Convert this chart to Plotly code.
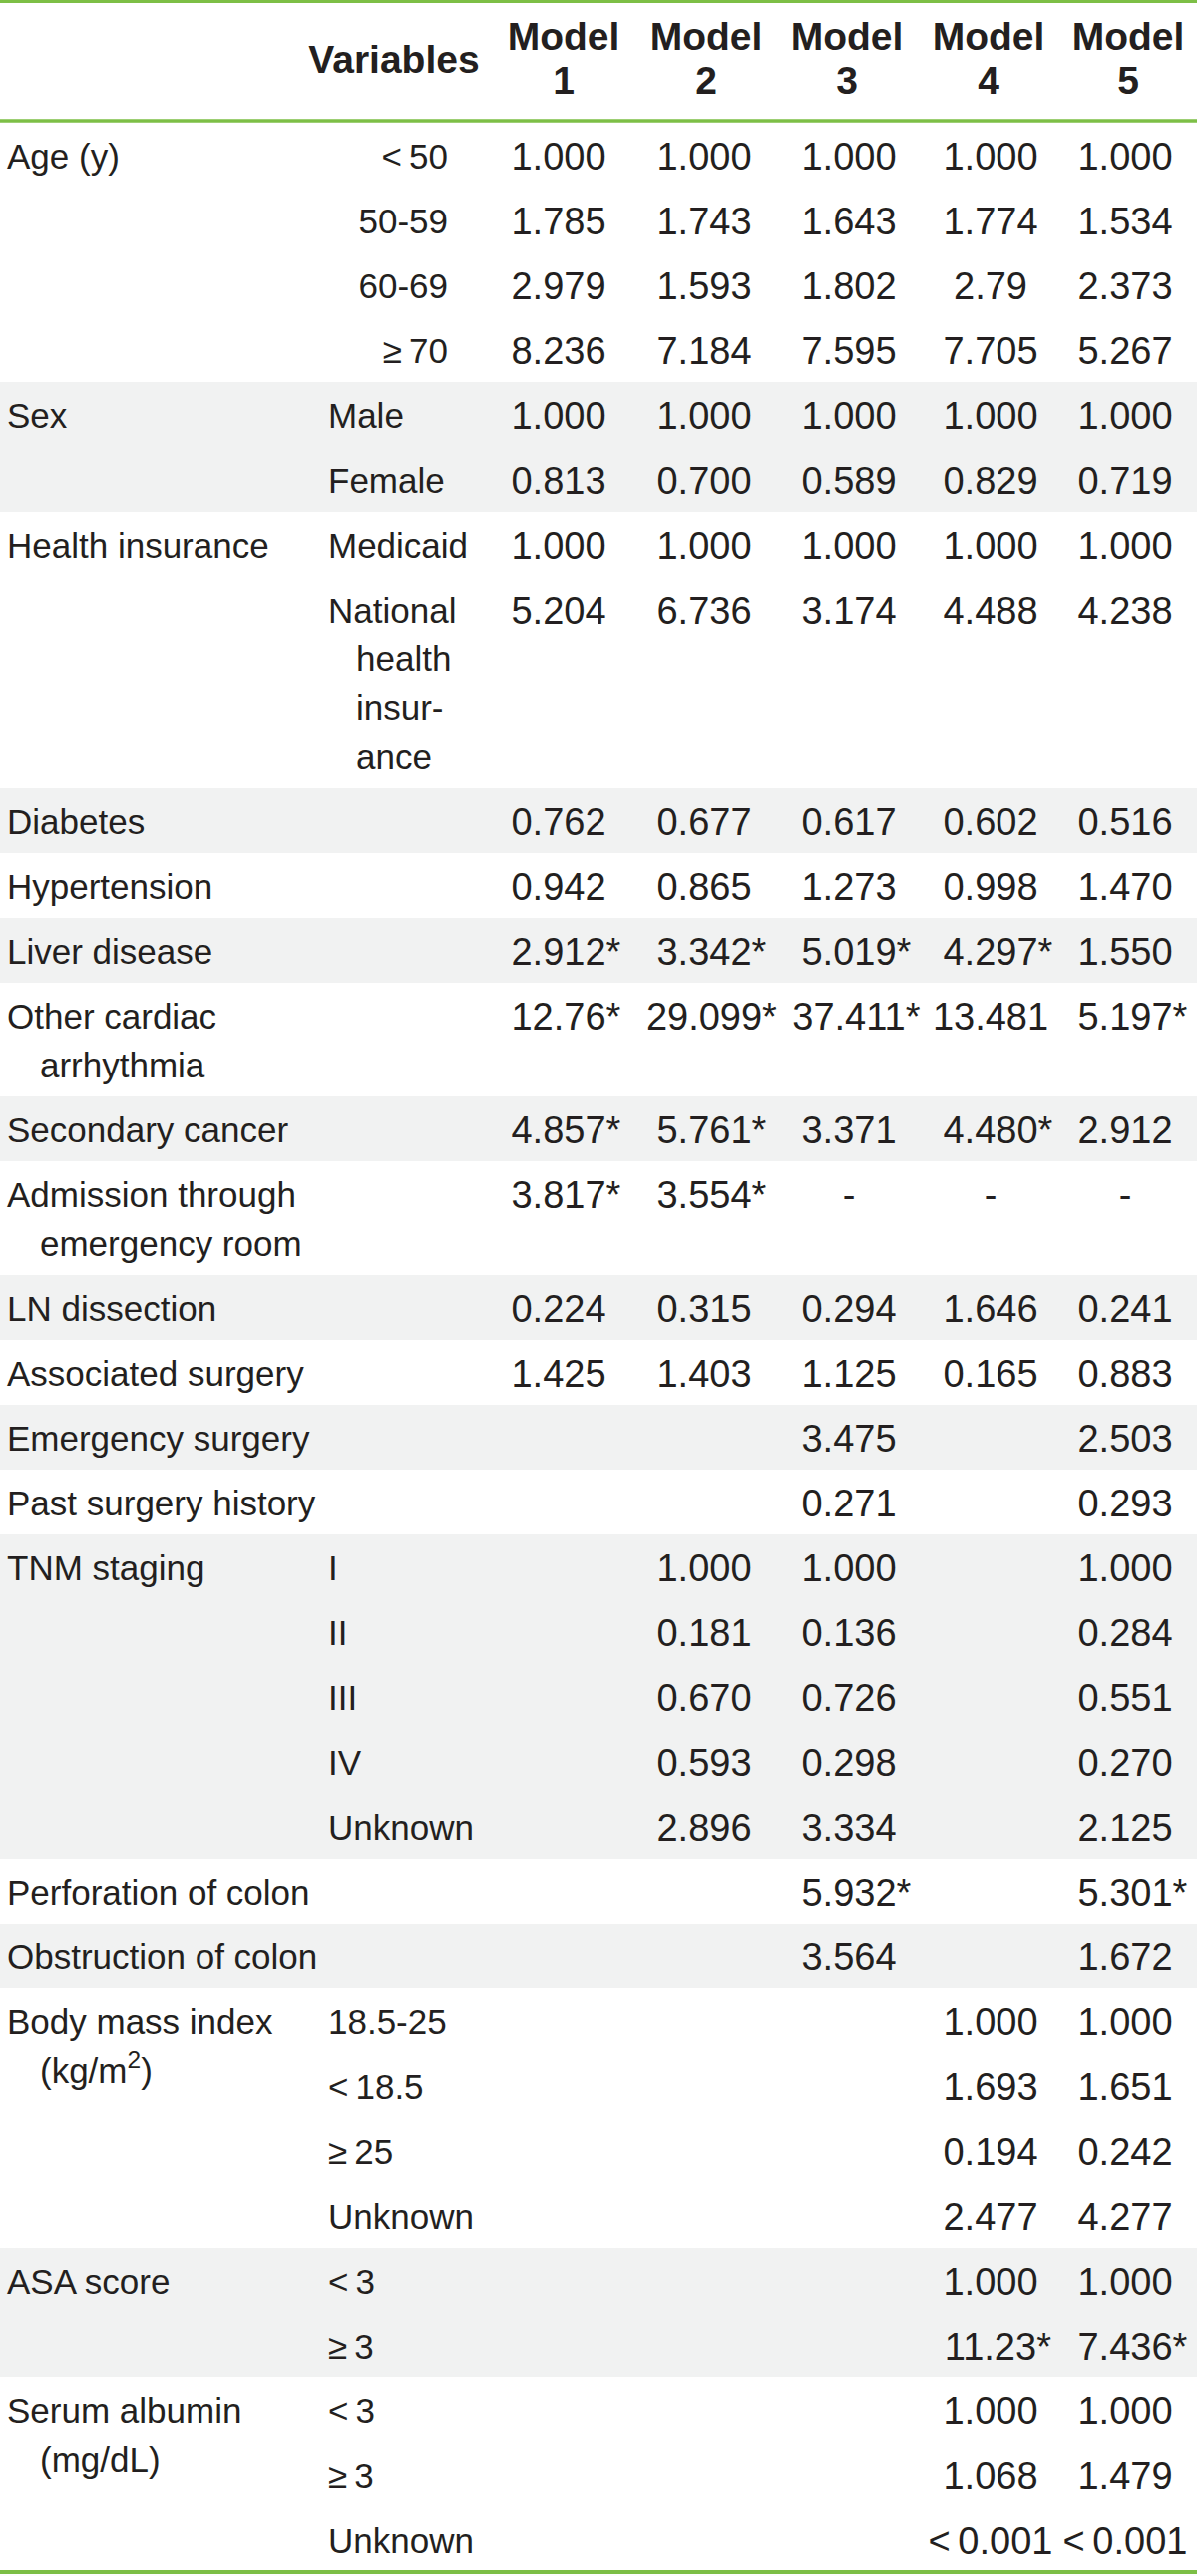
import plotly.graph_objects as go

# ---------------- data ----------------
headers = ["Variables", "Model<br>1", "Model<br>2", "Model<br>3", "Model<br>4", "Model<br>5"]

variables = [
    "Age (y)", "Sex", "Health insurance", "Diabetes", "Hypertension", "Liver disease",
    "Other cardiac<br>arrhythmia", "Secondary cancer", "Admission through<br>emergency room",
    "LN dissection", "Associated surgery", "Emergency surgery", "Past surgery history",
    "TNM staging", "Perforation of colon", "Obstruction of colon",
    "Body mass index<br>(kg/m<sup>2</sup>)", "ASA score", "Serum albumin<br>(mg/dL)",
]

levels = [
    ["<\u200950", "50-59", "60-69", "\u2265\u200970"],
    ["Male", "Female"],
    ["Medicaid", "National<br>health<br>insur-<br>ance"],
    [""], [""], [""], [""], [""], [""], [""], [""], [""], [""],
    ["I", "II", "III", "IV", "Unknown"],
    [""], [""],
    ["18.5-25", "<\u200918.5", "\u2265\u200925", "Unknown"],
    ["<\u20093", "\u2265\u20093"],
    ["<\u20093", "\u2265\u20093", "Unknown"],
]

model1 = ["1.000", "1.785", "2.979", "8.236", "1.000", "0.813", "1.000", "5.204",
          "0.762", "0.942", "2.912*", "12.76*", "4.857*", "3.817*", "0.224", "1.425",
          "", "", "", "", "", "", "", "", "", "", "", "", "", "", "", "", "", ""]
model2 = ["1.000", "1.743", "1.593", "7.184", "1.000", "0.700", "1.000", "6.736",
          "0.677", "0.865", "3.342*", "29.099*", "5.761*", "3.554*", "0.315", "1.403",
          "", "", "1.000", "0.181", "0.670", "0.593", "2.896", "", "", "", "", "", "", "", "", "", "", ""]
model3 = ["1.000", "1.643", "1.802", "7.595", "1.000", "0.589", "1.000", "3.174",
          "0.617", "1.273", "5.019*", "37.411*", "3.371", "-", "0.294", "1.125",
          "3.475", "0.271", "1.000", "0.136", "0.726", "0.298", "3.334", "5.932*", "3.564",
          "", "", "", "", "", "", "", "", ""]
model4 = ["1.000", "1.774", "2.79", "7.705", "1.000", "0.829", "1.000", "4.488",
          "0.602", "0.998", "4.297*", "13.481", "4.480*", "-", "1.646", "0.165",
          "", "", "", "", "", "", "", "", "",
          "1.000", "1.693", "0.194", "2.477", "1.000", "11.23*", "1.000", "1.068", "<\u20090.001"]
model5 = ["1.000", "1.534", "2.373", "5.267", "1.000", "0.719", "1.000", "4.238",
          "0.516", "1.470", "1.550", "5.197*", "2.912", "-", "0.241", "0.883",
          "2.503", "0.293", "1.000", "0.284", "0.551", "0.270", "2.125", "5.301*", "1.672",
          "1.000", "1.651", "0.242", "4.277", "1.000", "7.436*", "1.000", "1.479", "<\u20090.001"]
models = [model1, model2, model3, model4, model5]

# ---------------- layout constants ----------------
W, H = 1200, 2582
HEADER_BOTTOM = 123
ROW_H = 65
WRAP_H = 49
TEXT_DY = 37
FONT = "'Liberation Sans Narrow', 'Arial Narrow', 'Liberation Sans', Arial, sans-serif"
TXT = "#231f20"
GREEN = "#7dbf46"
BAND = "#f1f2f2"
LFS = 35   # label font size
VFS = 38   # value font size
HFS = 39   # header font size

VAR_X, VAR_INDENT = 7, 33
LEV_X, LEV_INDENT = 329, 28
AGE_RIGHT = 449
COL_X = [560, 706, 851, 993, 1128]
HEAD_X = [395, 565, 708, 849, 991, 1131]

# ---------------- compute rows ----------------
var_x, var_y, var_t = [], [], []
lev_lx, lev_ly, lev_lt = [], [], []
lev_rx, lev_ry, lev_rt = [], [], []
row_y = []
bands = []
y = HEADER_BOTTOM
for gi, (var, levs) in enumerate(zip(variables, levels)):
    top = y
    vlines = var.split("<br>")
    for k, ln in enumerate(vlines):
        var_x.append(VAR_X + (VAR_INDENT if k else 0))
        var_y.append(top + TEXT_DY + k * WRAP_H)
        var_t.append(ln)
    for lev in levs:
        llines = lev.split("<br>")
        row_y.append(y + TEXT_DY)
        for k, ln in enumerate(llines):
            if ln == "":
                continue
            if gi == 0:
                lev_rx.append(AGE_RIGHT)
                lev_ry.append(y + TEXT_DY + k * WRAP_H)
                lev_rt.append(ln)
            else:
                lev_lx.append(LEV_X + (LEV_INDENT if k else 0))
                lev_ly.append(y + TEXT_DY + k * WRAP_H)
                lev_lt.append(ln)
        y += ROW_H + (len(llines) - 1) * WRAP_H
    y = max(y, top + ROW_H + (len(vlines) - 1) * WRAP_H)
    bands.append((top, y, gi % 2 == 1))
TABLE_BOTTOM = y


def fmt(v):
    if v.endswith("*"):
        return "<span style='color:rgba(0,0,0,0)'>*</span>" + v
    return v


fig = go.Figure()

shapes = []
for top, bot, shaded in bands:
    if shaded:
        shapes.append(dict(type="rect", xref="x", yref="y", x0=0, x1=W, y0=top, y1=bot,
                           fillcolor=BAND, line=dict(width=0), layer="below"))
for yy, lw in [(1.5, 3), (HEADER_BOTTOM - 2, 3.5), (min(TABLE_BOTTOM, H - 2), 4)]:
    shapes.append(dict(type="line", xref="x", yref="y", x0=0, x1=W, y0=yy, y1=yy,
                       line=dict(color=GREEN, width=lw)))

lf = dict(family=FONT, size=LFS, color=TXT)
vf = dict(family=FONT, size=VFS, color=TXT)
fig.add_trace(go.Scatter(x=var_x, y=var_y, text=var_t, mode="text",
                         textposition="middle right", textfont=lf, hoverinfo="skip"))
fig.add_trace(go.Scatter(x=lev_lx, y=lev_ly, text=lev_lt, mode="text",
                         textposition="middle right", textfont=lf, hoverinfo="skip"))
fig.add_trace(go.Scatter(x=lev_rx, y=lev_ry, text=lev_rt, mode="text",
                         textposition="middle left", textfont=lf, hoverinfo="skip"))
for ci, vals in enumerate(models):
    xs, ys, ts = [], [], []
    for ri, v in enumerate(vals):
        if v:
            xs.append(COL_X[ci]); ys.append(row_y[ri]); ts.append(fmt(v))
    fig.add_trace(go.Scatter(x=xs, y=ys, text=ts, mode="text", textposition="middle center",
                             textfont=vf, hoverinfo="skip"))

# headers
hx, hy, ht = [], [], []
for i, h in enumerate(headers):
    parts = h.split("<br>")
    if len(parts) == 1:
        hx.append(HEAD_X[i]); hy.append(63); ht.append("<b>" + parts[0] + "</b>")
    else:
        hx += [HEAD_X[i], HEAD_X[i]]; hy += [40, 84]
        ht += ["<b>" + parts[0] + "</b>", "<b>" + parts[1] + "</b>"]
fig.add_trace(go.Scatter(x=hx, y=hy, text=ht, mode="text", textposition="middle center",
                         textfont=dict(family=FONT, size=HFS, color=TXT), hoverinfo="skip"))

fig.update_layout(
    width=W, height=H, margin=dict(l=0, r=0, t=0, b=0),
    paper_bgcolor="white", plot_bgcolor="white", showlegend=False,
    xaxis=dict(range=[0, W], visible=False, fixedrange=True),
    yaxis=dict(range=[H, 0], visible=False, fixedrange=True),
    shapes=shapes,
)
fig.write_html("out.html", config={"displayModeBar": False},
               post_script="document.body.style.margin='0';")
